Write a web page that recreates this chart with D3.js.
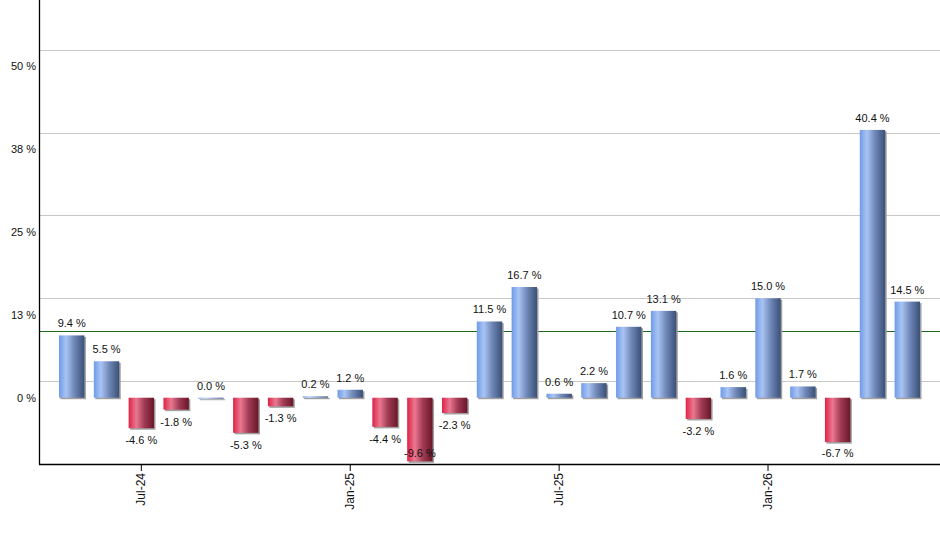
<!DOCTYPE html>
<html>
<head>
<meta charset="utf-8">
<script src="https://cdn.jsdelivr.net/npm/d3@7/dist/d3.min.js"></script>
<style>
html,body{margin:0;padding:0;background:#fff;}
svg{display:block;font-family:"Liberation Sans",Arial,sans-serif;}
</style>
</head>
<body>
<svg id="chart" width="940" height="550"></svg>
<script>
const months = ["May-24","Jun-24","Jul-24","Aug-24","Sep-24","Oct-24","Nov-24","Dec-24",
  "Jan-25","Feb-25","Mar-25","Apr-25","May-25","Jun-25","Jul-25","Aug-25","Sep-25","Oct-25",
  "Nov-25","Dec-25","Jan-26","Feb-26","Mar-26","Apr-26","May-26"];
const values = [9.4,5.5,-4.6,-1.8,0.0,-5.3,-1.3,0.2,1.2,-4.4,-9.6,-2.3,11.5,16.7,0.6,2.2,10.7,13.1,-3.2,1.6,15.0,1.7,-6.7,40.4,14.5];
const xTickLabels = ["Jul-24","Jan-25","Jul-25","Jan-26"];
const yTickValues = [0,12.5,25,37.5,50];
const yTickLabels = ["0 %","13 %","25 %","38 %","50 %"];
const gridValues = [2.5,15,27.5,40,52.5];
const referenceValue = 10;

(function(){
const svg = d3.select("#chart");
const pLeft = 39, pRight = 940, pTop = 0, pBottom = 464;

const y = d3.scaleLinear().domain([-10,60]).range([pBottom, pTop]);
const x = d3.scaleBand().domain(months).range([54.3, 924.7]).paddingInner(0.27).paddingOuter(0.135);

const defs = svg.append("defs");
function grad(id, stops){
  const g = defs.append("linearGradient").attr("id", id).attr("x1","0%").attr("x2","100%").attr("y1","0%").attr("y2","0%");
  stops.forEach(s => g.append("stop").attr("offset", s[0]).attr("stop-color", s[1]));
}
grad("gBlue", [["0%","#6f9be8"],["28%","#a9c4f4"],["60%","#7088b8"],["100%","#3a5078"]]);
grad("gRed", [["0%","#de2248"],["30%","#ea7890"],["62%","#a03a55"],["100%","#6a1628"]]);

// gridlines
svg.append("g").selectAll("line").data(gridValues).join("line")
  .attr("x1", pLeft).attr("x2", pRight)
  .attr("y1", d => Math.round(y(d))+0.5).attr("y2", d => Math.round(y(d))+0.5)
  .attr("stroke", "#c8c8c8").attr("stroke-width", 1);

// y labels
svg.append("g").selectAll("text").data(yTickValues).join("text")
  .attr("x", 36).attr("y", d => y(d)+4)
  .attr("text-anchor", "end").attr("font-size", "11px").attr("fill", "#111")
  .text((d,i) => yTickLabels[i]);

// reference line
svg.append("line").attr("x1", pLeft).attr("x2", pRight)
  .attr("y1", Math.round(y(referenceValue))+0.5).attr("y2", Math.round(y(referenceValue))+0.5)
  .attr("stroke", "#1a6a1a").attr("stroke-width", 1);

// bars
const bw = x.bandwidth();
const barG = svg.append("g");
const data = months.map((m,i) => ({m, v: values[i]}));
barG.selectAll("rect.sh").data(data).join("rect").attr("class","sh")
  .attr("x", d => x(d.m)+1.5)
  .attr("y", d => Math.min(y(d.v), y(0))+1.5)
  .attr("width", bw)
  .attr("height", d => Math.max(1, Math.abs(y(d.v)-y(0))))
  .attr("fill", "#a0a0a0");
barG.selectAll("rect.bar").data(data).join("rect").attr("class","bar")
  .attr("x", d => x(d.m))
  .attr("y", d => Math.min(y(d.v), y(0)))
  .attr("width", bw)
  .attr("height", d => Math.max(1, Math.abs(y(d.v)-y(0))))
  .attr("fill", d => d.v >= 0 ? "url(#gBlue)" : "url(#gRed)");

// value labels
svg.append("g").selectAll("text").data(data).join("text")
  .attr("x", d => x(d.m)+bw/2)
  .attr("y", d => d.v >= 0 ? y(d.v)-8 : Math.min(y(d.v)+16, pBottom-7))
  .attr("text-anchor", "middle").attr("font-size", "11px").attr("fill", "#111")
  .text(d => d.v.toFixed(1) + " %");

// axes lines
svg.append("line").attr("x1", pLeft+0.5).attr("x2", pLeft+0.5).attr("y1", 0).attr("y2", pBottom+0.5)
  .attr("stroke", "#000").attr("stroke-width", 1.3);
svg.append("line").attr("x1", pLeft).attr("x2", pRight).attr("y1", pBottom+0.5).attr("y2", pBottom+0.5)
  .attr("stroke", "#000").attr("stroke-width", 1.3);

// x ticks
const xt = svg.append("g").selectAll("g").data(xTickLabels).join("g")
  .attr("transform", d => `translate(${x(d)+bw/2},${pBottom})`);
xt.append("line").attr("x1",0).attr("x2",0).attr("y1",0).attr("y2",7).attr("stroke","#000");
xt.append("text").attr("transform","rotate(-90)")
  .attr("x", -9).attr("y", 4).attr("text-anchor","end")
  .attr("font-size","12px").attr("fill","#111")
  .text(d => d);
})();
</script>
</body>
</html>
